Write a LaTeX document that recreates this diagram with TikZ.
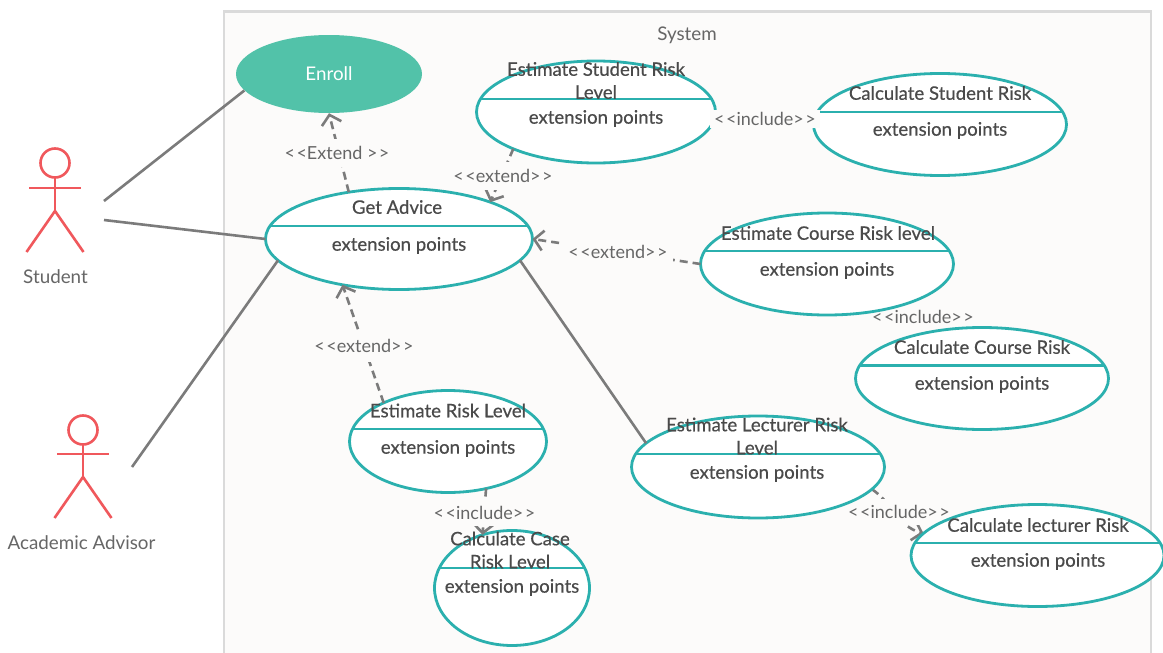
\documentclass[tikz,border=0pt]{standalone}
\usepackage{fontspec}
\usetikzlibrary{arrows.meta,shapes.geometric}
\setmainfont{Lato}
\newfontfamily\medfont[FakeBold=0.5]{Lato}
\definecolor{teal1}{HTML}{2BB0AE}
\definecolor{enrollc}{HTML}{52C2A9}
\definecolor{actorc}{HTML}{F0585C}
\definecolor{linec}{HTML}{7B7B7B}
\definecolor{framec}{HTML}{DADADA}
\definecolor{sysbg}{HTML}{FCFBFA}
\definecolor{txt}{HTML}{4A4A4A}
\definecolor{lbltxt}{HTML}{666666}
\pgfdeclarelayer{base}
\pgfdeclarelayer{under}
\pgfsetlayers{base,under,main}
\tikzset{
  ucaseshape/.style={draw=teal1,line width=2.8pt,fill=white,ellipse,inner sep=0pt,outer sep=0pt},
  divider/.style={draw=teal1,line width=2.6pt},
  title/.style={font=\medfont\fontsize{18.6}{23}\selectfont,text=txt,align=center,inner sep=0pt},
  lbl/.style={font=\fontsize{18}{18}\selectfont,text=lbltxt,fill=sysbg,inner xsep=4pt,inner ysep=7pt},
  plainlbl/.style={font=\fontsize{18.8}{20}\selectfont,text=lbltxt,inner sep=0pt},
  solidline/.style={draw=linec,line width=2.6pt},
  hiddendep/.style={draw=linec,line width=2.6pt,dash pattern=on 8pt off 5pt},
  depline/.style={draw=linec,line width=2.6pt,dash pattern=on 8pt off 5pt,-{Straight Barb[length=9pt,width=20pt,line width=2.6pt]}},
  actorline/.style={draw=actorc,line width=2.6pt}
}
\newcommand{\ucase}[6]{%
  \node[ucaseshape,minimum width=2*#4 pt,minimum height=2*#5 pt] (#1) at (#2,#3) {};
  \begin{scope}
    \clip (#2,#3) ellipse [x radius=#4,y radius=#5];
    \draw[divider] (#2-#4,#6) -- (#2+#4,#6);
  \end{scope}
}
\newcommand{\actor}[8]{%
  \node[draw=actorc,line width=2.6pt,circle,minimum size=29pt,inner sep=0pt,outer sep=0pt] (#1) at (#2,#3) {};
  \coordinate (#1hip) at (#2,#5);
  \coordinate (#1la) at (#2-26,#4);
  \coordinate (#1ra) at (#2+26,#4);
  \coordinate (#1lf) at (#2-28.5,#6);
  \coordinate (#1rf) at (#2+28.5,#6);
  \draw[actorline] (#1.south) -- (#1hip);
  \draw[actorline] (#1la) -- (#1ra);
  \draw[actorline] (#1lf) -- (#1hip) -- (#1rf);
  \node[plainlbl] (#1name) at (#7,#8) {\actortext};
}
\begin{document}
\begin{tikzpicture}[x=1pt,y=-1pt]
\useasboundingbox (0,0) rectangle (1163,653);
\begin{pgfonlayer}{base}
\begin{scope}
\clip (0,0) rectangle (1163,653);
\fill[white] (0,0) rectangle (1163,653);
\draw[fill=sysbg,draw=framec,line width=2.8pt] (224,11.5) rectangle (1151,680);
\end{scope}
\end{pgfonlayer}
\node[plainlbl] (systitle) at (687,35.5) {System};

\def\actortext{Student}
\actor{student}{55}{163}{188}{211}{252}{55.5}{276.5}
\def\actortext{Academic Advisor}
\actor{advisor}{83}{430}{454}{477}{518}{81.5}{543}
\coordinate (stuA) at (104,201);
\coordinate (stuB) at (104,220);
\coordinate (advA) at (132,467);

\node[ellipse,fill=enrollc,inner sep=0pt,minimum width=186pt,minimum height=78pt,text=white,font=\fontsize{18.8}{20}\selectfont] (enroll) at (329,74) {Enroll};

\ucase{srisk}{596}{112}{119.5}{51}{99}
\ucase{cstud}{940}{124.5}{126.5}{51}{112}
\ucase{advice}{399}{239}{133.5}{50.5}{226}
\ucase{crisk}{827}{264}{126.5}{51}{251}
\ucase{ccourse}{982}{378.5}{126.5}{51}{365.5}
\ucase{erisk}{448}{441.5}{98.5}{51}{429}
\ucase{lrisk}{758}{467}{126.5}{51}{454}
\begin{scope}
\clip (0,0) rectangle (1163,653);
\ucase{clect}{1037.5}{555.5}{126.5}{51}{543}
\end{scope}
\ucase{ccase}{512}{588}{77.5}{57.5}{568}

% solid associations
\draw[solidline] (stuA) -- (enroll.191);
\draw[solidline] (stuB) -- (advice.180);
\draw[solidline] (advA) -- (advice.190.4);
\draw[solidline] (advice.350) -- (lrisk.168.7);

% dependencies
\draw[depline] (advice.137) -- (enroll.south);
\draw[depline] (srisk.204) -- (advice.22);
\draw[depline] (crisk.west) -- (advice.east);
\draw[depline] (erisk.149.5) -- (advice.219);
\draw[depline] (erisk.-51) -- (ccase.119);
\draw[hiddendep,shorten <=2pt,shorten >=2pt] (srisk.east) -- (cstud.west);
\begin{pgfonlayer}{under}
\draw[hiddendep] (crisk.-28) -- (ccourse.134);
\draw[depline] (lrisk.-11.5) to[out=-35,in=165] (clect.169.5);
\node[lbl] (l7) at (923,317) {<\kern1.5pt<include>\kern1.5pt>};
\node[lbl,inner ysep=6pt] (l8) at (899,512) {<\kern1.5pt<include>\kern1.5pt>};
\end{pgfonlayer}

% labels
\node[lbl] (l1) at (337,153) {<\kern1.5pt<Extend >\kern1.5pt>};
\node[lbl] (l2) at (503,176) {<\kern1.5pt<extend>\kern1.5pt>};
\node[lbl,inner xsep=5pt] (l3) at (618,252) {<\kern1.5pt<extend>\kern1.5pt>};
\node[lbl,inner ysep=9pt] (l4) at (364,346) {<\kern1.5pt<extend>\kern1.5pt>};
\node[lbl,inner ysep=6pt] (l5) at (484.5,513) {<\kern1.5pt<include>\kern1.5pt>};
\node[lbl,inner ysep=2pt] (l6) at (765,119) {<\kern1.5pt<include>\kern1.5pt>};

% titles
\node[title] (t1) at (596,80.5) {Estimate Student Risk\\Level};
\node[title] (t2) at (940,93) {Calculate Student Risk};
\node[title] (t3) at (397,207) {Get Advice};
\node[title] (t4) at (828,233) {Estimate Course Risk level};
\node[title] (t5) at (982,347) {Calculate Course Risk};
\node[title] (t6) at (448,410.5) {Estimate Risk Level};
\node[title] (t7) at (757,436) {Estimate Lecturer Risk\\Level};
\node[title] (t8) at (1038,525) {Calculate lecturer Risk};
\node[title] (t9) at (510,550) {Calculate Case\\Risk Level};
\foreach \n/\x/\y in {e1/596/118.5,e2/940/130.5,e3/399/245.5,e4/827/270.5,e5/982/384.5,e6/448/448.5,e7/757/473.5,e8/1038/561.5,e9/512/587.5}
  \node[title] (\n) at (\x,\y) {extension points};
\end{tikzpicture}
\end{document}
